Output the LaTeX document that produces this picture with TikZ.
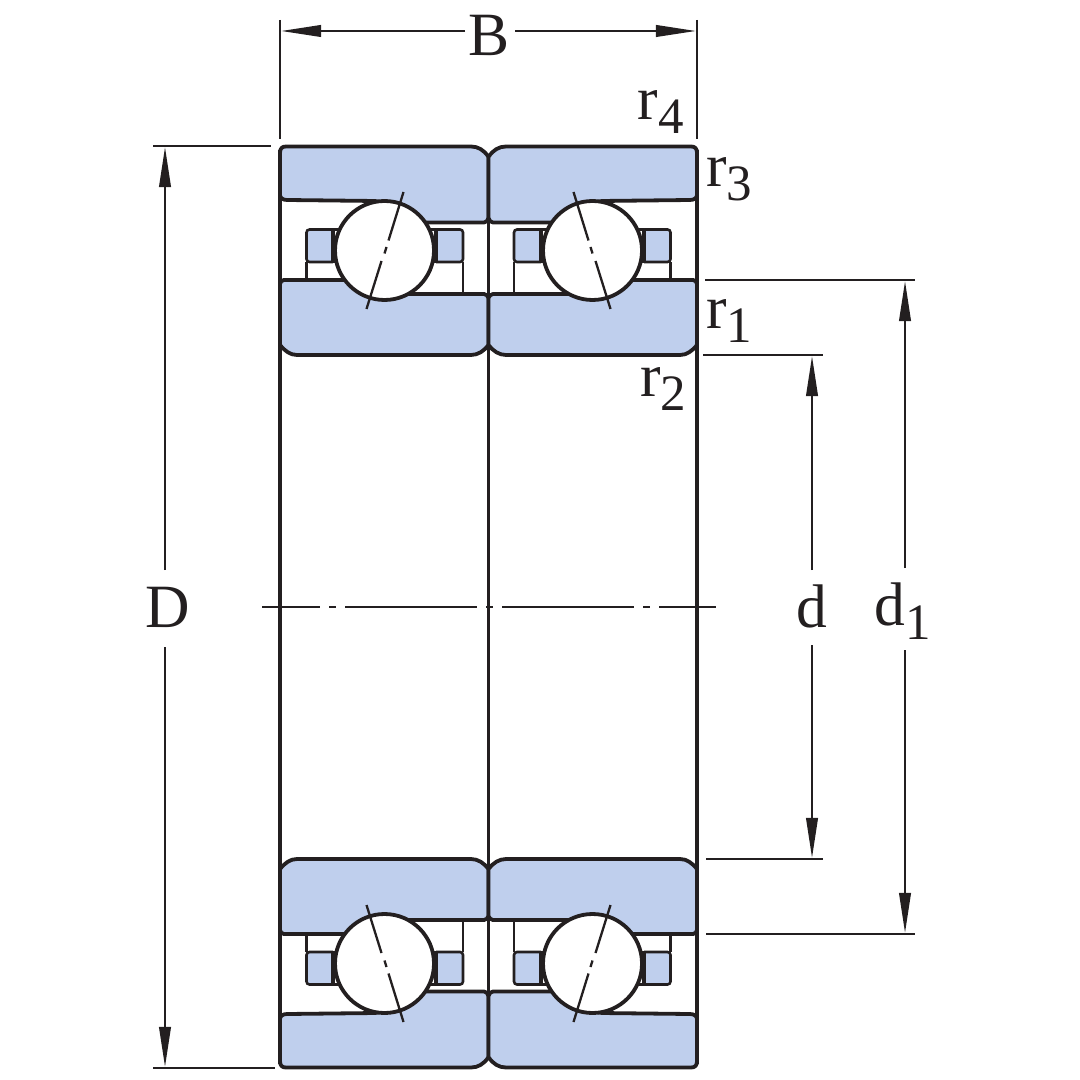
\documentclass[tikz,border=0pt]{standalone}
\usepackage{fontspec}
\setmainfont{Liberation Serif}
\usetikzlibrary{arrows.meta,positioning}
\definecolor{ringblue}{HTML}{BFCFED}
\definecolor{inkdark}{HTML}{231F20}
\newcommand{\sublabel}[2]{#1\raisebox{-0.22em}{\fontsize{14.5}{15}\selectfont #2}}
\tikzset{
  ringline/.style={draw=inkdark,line width=0.038cm,fill=ringblue},
  cageline/.style={draw=inkdark,line width=0.026cm},
  thinline/.style={draw=inkdark,line width=0.023cm},
  dimarrow/.style={thinline,-{Triangle[length=0.4cm,width=0.115cm,fill=inkdark]}},
  dimlabel/.style={text=inkdark,inner sep=0pt,font=\fontsize{17.5}{20}\selectfont}
}
\begin{document}
\begin{tikzpicture}[x=0.01cm,y=-0.01cm]
\useasboundingbox (0,0) rectangle (1080,1080);
% main outlines
\draw[inkdark,line width=0.036cm] (280,150) -- (280,1064);
\draw[inkdark,line width=0.036cm] (488.5,157) -- (488.5,1057);
\draw[inkdark,line width=0.036cm] (697,150) -- (697,1064);
% the four sections, mirrored about the axes
\foreach \sx/\sy in {1/1,-1/1,1/-1,-1/-1}{
\begin{scope}[shift={(488.5,607)},xscale=\sx,yscale=\sy,shift={(-488.5,-607)}]
\coordinate (ballc) at (384.5,250.5);
% cage
\draw[cageline] (306.5,262) -- (306.5,280);
\draw[cageline] (463,262) -- (463,294);
\draw[cageline,fill=ringblue,rounded corners=0.03cm] (333,229.5) -- (306.5,229.5) -- (306.5,262) -- (333,262);
\draw[cageline,fill=ringblue,rounded corners=0.03cm] (436,229.5) -- (463,229.5) -- (463,262) -- (436,262);
\draw[ringline] (333,229) -- (333,262);
\draw[ringline] (436,229) -- (436,262);
\draw[cageline] (333,229.5) -- (340,229.5);
\draw[cageline] (333,262) -- (337,262);
\draw[cageline] (436,229.5) -- (429,229.5);
\draw[cageline] (436,262) -- (432,262);
% outer ring
\draw[ringline] (280,153) .. controls (280,148.5) and (282,146.5) .. (286,146.5) -- (471,146.5)
  .. controls (478,146.5) and (484,150) .. (488.5,157) -- (488.5,218)
  .. controls (488,220.5) and (486,222.5) .. (484,222.5) -- (420,222.5) -- (380,202) -- (375,201) -- (287,200)
  .. controls (283,200) and (280,198) .. (280,195) -- cycle;
% inner ring
\draw[ringline] (280,284) .. controls (280,282) and (282,280) .. (284,280) -- (350,280) -- (405,294) -- (484,294)
  .. controls (486,294) and (488,296) .. (488.5,298) -- (488.5,345)
  .. controls (484,351) and (478,355) .. (471,355) -- (297,355)
  .. controls (290,355) and (285,351) .. (280,345) -- cycle;
% ball
\draw[ringline,fill=white] (ballc) circle[radius=49.5];
\draw[thinline] (403.5,192) -- (388.5,240.5);
\draw[thinline] (386.5,247) -- (384.5,253.5);
\draw[thinline] (381.5,261) -- (366.5,309);
\end{scope}
}
% centre line
\draw[thinline,dash pattern=on 1.32cm off 0.09cm on 0.07cm off 0.09cm,dash phase=0.74cm] (262,607) -- (716,607);
% extension lines
\draw[thinline] (280,20) -- (280,139);
\draw[thinline] (697,20) -- (697,139);
\draw[thinline] (153,146) -- (271,146);
\draw[thinline] (153,1068) -- (275,1068);
\draw[thinline] (703,355) -- (823,355);
\draw[thinline] (706,859) -- (823,859);
\draw[thinline] (705,280) -- (915,280);
\draw[thinline] (706,934) -- (915,934);
% labels
\node[dimlabel] (labB) at (489,35) {B};
\node[dimlabel] (labD) at (168,607) {D};
\node[dimlabel] (labd) at (812,606) {d};
\node[dimlabel] (labdone) at (903,611) {\sublabel{d}{1}};
\node[dimlabel] (labrfour) at (660.5,112) {\sublabel{r}{4}};
\node[dimlabel] (labrthree) at (729,179) {\sublabel{r}{3}};
\node[dimlabel] (labrone) at (729,321) {\sublabel{r}{1}};
\node[dimlabel] (labrtwo) at (663,389) {\sublabel{r}{2}};
% arrow ends
\coordinate (Bl) at (281,31);
\coordinate (Br) at (696,31);
\coordinate (Dt) at (165,147);
\coordinate (Db) at (165,1067);
\coordinate (dt) at (812,356);
\coordinate (db) at (812,858);
\coordinate (dot) at (905,281);
\coordinate (dob) at (905,933);
\coordinate (Bgl) at (465,31);
\coordinate (Bgr) at (515,31);
\coordinate (Dgt) at (165,570);
\coordinate (Dgb) at (165,647);
\coordinate (dgt) at (812,570);
\coordinate (dgb) at (812,645);
\coordinate (dogt) at (905,568);
\coordinate (dogb) at (905,650);
% dimension arrows
\draw[dimarrow] (Bgl) -- (Bl);
\draw[dimarrow] (Bgr) -- (Br);
\draw[dimarrow] (Dgt) -- (Dt);
\draw[dimarrow] (Dgb) -- (Db);
\draw[dimarrow] (dgt) -- (dt);
\draw[dimarrow] (dgb) -- (db);
\draw[dimarrow] (dogt) -- (dot);
\draw[dimarrow] (dogb) -- (dob);
\end{tikzpicture}
\end{document}
